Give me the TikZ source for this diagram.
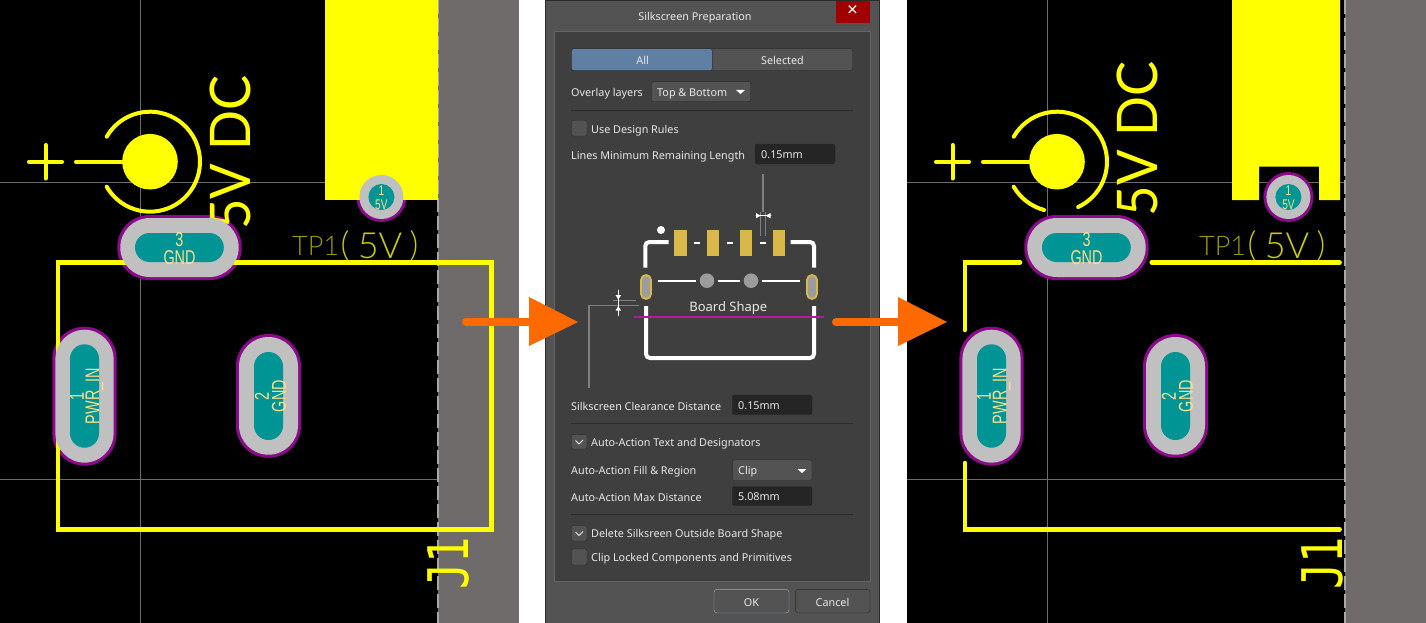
\documentclass[tikz,border=0pt]{standalone}
\usepackage{fontspec}
\setmainfont{Noto Sans}
\newfontfamily\silkfamily[FakeStretch=0.94]{Lato}
\newfontfamily\tpfamily{Lato Light}
\newfontfamily\jackfamily[FakeStretch=0.78]{DejaVu Sans Mono}
\newfontfamily\padfamily[FakeStretch=0.72]{Liberation Sans}
\newcommand{\dlgsize}{\fontsize{10.8}{13}\selectfont}
\definecolor{silkyellow}{RGB}{255,255,0}
\definecolor{boardgray}{HTML}{6F6B6B}
\definecolor{gridgray}{HTML}{6F6B6B}
\definecolor{edgegray}{HTML}{A8A8A8}
\definecolor{padpurple}{HTML}{8B0A8B}
\definecolor{padgray}{HTML}{C0C0C0}
\definecolor{padteal}{HTML}{009494}
\definecolor{padtext}{HTML}{FFE08C}
\definecolor{arroworange}{HTML}{FF6A00}
\definecolor{dlgbody}{HTML}{535353}
\definecolor{dlgpanel}{HTML}{3F3F3F}
\definecolor{dlgedge}{HTML}{2B2B2B}
\definecolor{dlgtxt}{HTML}{E8E8E8}
\definecolor{dlgblue}{HTML}{5F80A3}
\definecolor{dlgfocus}{HTML}{8AB0D0}
\definecolor{dlgclose}{HTML}{A00000}
\definecolor{partgold}{HTML}{D9B84A}
\definecolor{partgray}{HTML}{9C9C9C}
\definecolor{hintgray}{HTML}{808080}
\definecolor{edgepurple}{HTML}{B01AA8}
\tikzset{
  silkline/.style={draw=silkyellow, line width=4.5pt, line cap=round},
  thinsilk/.style={draw=silkyellow, line width=4pt, line cap=round},
  gridline/.style={draw=gridgray, line width=1pt},
  edgeline/.style={draw=edgegray, line width=1.2pt, dash pattern=on 14pt off 4pt},
  padtxt/.style={inner sep=0pt, text=padtext, font=\padfamily\fontsize{#1}{#1}\selectfont},
  silktxt/.style={inner sep=0pt, text=silkyellow, font=\silkfamily\fontsize{#1}{#1}\selectfont},
  jacktxt/.style={inner sep=0pt, text=silkyellow, font=\jackfamily\fontsize{56}{56}\selectfont},
  tptxt/.style={inner sep=0pt, anchor=west, text=silkyellow!#1!black, font=\tpfamily\fontsize{27}{27}\selectfont},
  valtxt/.style={inner sep=0pt, anchor=center, text=silkyellow!80!black, font=\tpfamily\fontsize{#1}{#1}\selectfont},
  dlgtext/.style={anchor=base west, inner sep=0pt, text=dlgtxt, font=\dlgsize},
  dlgmid/.style={anchor=base, inner sep=0pt, text=dlgtxt, font=\dlgsize},
  dlgfield/.style={fill=dlgedge!85!black, draw=dlgedge, rounded corners=2pt},
  dlgcombo/.style={fill=dlgbody, draw=dlgedge, rounded corners=2pt},
  dlgcheck/.style={fill=dlgbody, draw=dlgedge, rounded corners=2pt},
  dlgsep/.style={draw=dlgedge, line width=1pt},
  tickmark/.style={draw=white, line width=0.6pt, line cap=round},
  whiteline/.style={draw=white, line width=2pt},
  whitewall/.style={draw=white, line width=4pt, rounded corners=4pt},
  hintline/.style={draw=hintgray, line width=1.2pt},
  sidepad/.style={fill=partgray, draw=partgold, line width=1.8pt, rounded corners=5pt},
  bigarrow/.style={draw=arroworange, line width=8pt, line cap=round},
  bighead/.style={fill=arroworange}
}
\begin{document}
\begin{tikzpicture}[x=1pt,y=-1pt]
    \useasboundingbox[fill=white] (0,0) rectangle (1426,623);

    % left board
    \fill [black] (0,0) rectangle (438,623);
    \fill [boardgray] (438,0) rectangle (519,623);
    \draw [gridline] (140.5,0) -- (140.5,623);
    \draw [gridline] (0,182.5) -- (441,182.5);
    \draw [gridline] (0,479.5) -- (441,479.5);
    \draw [edgeline] (438,0) -- (438,623);

    \fill [padpurple, rounded corners=32pt] (117.3,215) rectangle (241.7,280);
    \fill [padpurple, rounded corners=32pt] (52.4,326.7) rectangle (116.6,465.7);
    \fill [padpurple, rounded corners=32pt] (236,334) rectangle (301,457.7);
    \fill [padpurple] (381.4,197) circle (25);

    \draw [silkline] (57.8,262.3) -- (491.5,262.3) -- (491.5,529.3) -- (57.8,529.3) -- cycle;
    \fill [silkyellow] (325,0) rectangle (438,200);
    \node [silktxt=56, rotate=90] (leftvolt) at (230.5,152.5) {5V DC};
    \node [jacktxt, rotate=90] (leftjack) at (448.5,563) {J1};
    \node [tptxt=60] (lefttp) at (292,245.5) {TP1};
    \node [valtxt=34] (leftvala) at (345,245.5) {(};
    \node [valtxt=36] (leftvalb) at (380,245.5) {5V};
    \node [valtxt=34] (leftvalc) at (414,245.5) {)};
    \fill [silkyellow] (150,161.7) circle (27.8);
    \draw [thinsilk] (76,161.7) -- (150,161.7);
    \draw [thinsilk] (29,161.7) -- (62,161.7);
    \draw [thinsilk] (45.5,145) -- (45.5,178.5);
    \draw [thinsilk] (150,161.7) ++(-150:50) arc [start angle=-150, end angle=150, radius=50];

    \fill [padgray, rounded corners=29.5pt] (120.3,218) rectangle (238.7,277);
    \fill [padgray, rounded corners=29.5pt] (55.4,329.7) rectangle (113.6,462.7);
    \fill [padgray, rounded corners=29.5pt] (239,337) rectangle (298,454.7);
    \fill [padgray] (381.4,197) circle (22);
    \fill [padteal, rounded corners=14.5pt] (135,233) rectangle (223.8,262);
    \fill [padteal, rounded corners=14.5pt] (70,344.3) rectangle (99,447.7);
    \fill [padteal, rounded corners=14.5pt] (254,352) rectangle (283,440);
    \fill [padteal] (381.4,197) circle (13);
    \node [padtxt=20] (leftnumc) at (179.5,240) {3};
    \node [padtxt=20] (leftgndc) at (179.5,258) {GND};
    \node [padtxt=20, rotate=90] (leftnuma) at (77,396) {1};
    \node [padtxt=20, rotate=90] (leftpwr) at (94.6,396) {PWR\_IN};
    \node [padtxt=20, rotate=90] (leftnumb) at (262,396) {2};
    \node [padtxt=20, rotate=90] (leftgndb) at (279,396) {GND};
    \node [padtxt=14] (leftnumd) at (381.4,191) {1};
    \node [padtxt=14] (leftfive) at (381.4,205) {5V};

    % dialog
    \filldraw [fill=dlgbody, draw=dlgedge] (545.5,0) rectangle (879,623);
    \node [dlgmid] (title) at (695,21) {Silkscreen Preparation};
    \fill [dlgclose] (836,1) rectangle (870,23);
    \node [inner sep=0pt, text=white, font=\fontsize{19}{19}\selectfont] (closex) at (852.5,11.5) {×};
    \filldraw [fill=dlgpanel, draw=dlgbody!90!white] (554,31) rectangle (870,580.7);

    \filldraw [fill=dlgbody, draw=dlgedge, rounded corners=2pt] (571.7,48.7) rectangle (852.7,70.5);
    \filldraw [fill=dlgblue, draw=dlgedge, rounded corners=2pt] (571.7,48.7) rectangle (712.3,70.5);
    \node [dlgmid] (tabone) at (642.7,65) {All};
    \node [dlgmid] (tabtwo) at (782.5,65) {Selected};

    \node [dlgtext] (overlay) at (571,97) {Overlay layers};
    \draw [dlgcombo] (651.7,81.7) rectangle (750.7,101.5);
    \node [dlgtext] (overlayval) at (657,97) {Top \& Bottom};
    \fill [white] (736,90) -- (745,90) -- (740.5,94) -- cycle;
    \draw [dlgsep] (571,110.5) -- (853,110.5);

    \draw [dlgcheck] (571.5,120.5) rectangle (587,136);
    \node [dlgtext] (rules) at (591,133) {Use Design Rules};
    \node [dlgtext] (minlen) at (571,159) {Lines Minimum Remaining Length};
    \draw [dlgfield] (755,144) rectangle (835,164);
    \node [dlgtext] (minlenval) at (761,158.5) {0.15mm};

    % preview
    \draw [hintline, line width=1.6pt] (762.7,174) -- (762.7,212);
    \draw [hintline] (760.7,212) -- (760.7,236);
    \draw [hintline] (765.3,212) -- (765.3,236);
    \draw [tickmark] (756,215.7) -- (771,215.7);
    \fill [white] (756,213) -- (760.4,215.7) -- (756,218.4) -- cycle;
    \fill [white] (770.5,213) -- (765.8,215.7) -- (770.5,218.4) -- cycle;

    \fill [white] (661,230) circle (4);
    \fill [partgold] (674.3,230) rectangle (686.7,256);
    \fill [partgold] (707,230) rectangle (719,256);
    \fill [partgold] (740,230) rectangle (752.3,256);
    \fill [partgold] (773,230) rectangle (785,256);
    \draw [whiteline] (694,242.7) -- (700,242.7);
    \draw [whiteline] (727,242.7) -- (733,242.7);
    \draw [whiteline] (760,242.7) -- (766,242.7);
    \draw [whitewall] (668.7,242) -- (645.3,242) -- (645.3,267.7);
    \draw [whitewall] (790.7,242) -- (814,242) -- (814,267.7);
    \draw [sidepad] (641,275) rectangle (651,299);
    \draw [sidepad] (807,275) rectangle (817,299);
    \draw [whiteline] (657.7,280.7) -- (696,280.7);
    \draw [whiteline] (717.7,280.7) -- (740,280.7);
    \draw [whiteline] (762,280.7) -- (800,280.7);
    \fill [partgray] (707,280.7) circle (7.3);
    \fill [partgray] (751,280.7) circle (7.3);
    \draw [whitewall] (646,306) -- (646,358) -- (814,358) -- (814,306);
    \draw [draw=edgepurple, line width=2pt] (634,316.7) -- (824.3,316.7);
    \node [inner sep=0pt, text=dlgtxt, font=\fontsize{13}{15}\selectfont] (boardshape) at (728.3,308.5) {Board Shape};
    \draw [hintline] (639,305.3) -- (589,305.3) -- (589,387.7);
    \draw [hintline] (613.3,300.3) -- (636,300.3);
    \draw [tickmark] (618.3,290) -- (618.3,315.7);
    \fill [white] (615.5,295) -- (621.1,295) -- (618.3,299.6) -- cycle;
    \fill [white] (615.5,310.7) -- (621.1,310.7) -- (618.3,306) -- cycle;

    \node [dlgtext] (clearance) at (571,410) {Silkscreen Clearance Distance};
    \draw [dlgfield] (732.3,395) rectangle (812,414.7);
    \node [dlgtext] (clearanceval) at (738,409.5) {0.15mm};
    \draw [dlgsep] (571,423.5) -- (853,423.5);

    \draw [dlgcheck] (571.5,434.3) rectangle (587,449);
    \draw [draw=dlgtxt, line width=1pt] (575.5,440.5) -- (579,444) -- (583,440);
    \node [dlgtext] (autotext) at (591,446) {Auto-Action Text and Designators};
    \node [dlgtext] (autofill) at (571,474) {Auto-Action Fill \& Region};
    \draw [dlgcombo] (732.3,460) rectangle (812,480.5);
    \node [dlgtext] (autofillval) at (738,474.5) {Clip};
    \fill [white] (797.5,469) -- (806.5,469) -- (802,473) -- cycle;
    \node [dlgtext] (autodist) at (571,501) {Auto-Action Max Distance};
    \draw [dlgfield] (732.3,486.5) rectangle (812,505.7);
    \node [dlgtext] (autodistval) at (738,500.5) {5.08mm};
    \draw [dlgsep] (571,514.5) -- (853,514.5);

    \draw [dlgcheck] (571.5,525.5) rectangle (587,541);
    \draw [draw=dlgtxt, line width=1pt] (575.5,532) -- (579,535.5) -- (583,531.5);
    \node [dlgtext] (deleteout) at (591,537) {Delete Silksreen Outside Board Shape};
    \draw [dlgcheck] (571.5,549) rectangle (587,565);
    \node [dlgtext] (cliplocked) at (591,561) {Clip Locked Components and Primitives};

    \filldraw [fill=dlgbody, draw=dlgfocus, rounded corners=3pt] (714,589.3) rectangle (789,613);
    \node [dlgmid] (okbtn) at (751.5,606) {OK};
    \filldraw [fill=dlgbody, draw=dlgedge, rounded corners=3pt] (795.3,589.3) rectangle (870,613);
    \node [dlgmid] (cancelbtn) at (832.5,606) {Cancel};

    % right board
    \begin{scope}[xshift=907pt]
    \fill [black] (0,0) rectangle (438,623);
    \fill [boardgray] (438,0) rectangle (519,623);
    \draw [gridline] (140.5,0) -- (140.5,623);
    \draw [gridline] (0,182.5) -- (441,182.5);
    \draw [gridline] (0,479.5) -- (441,479.5);
    \draw [edgeline] (438,0) -- (438,623);

    \fill [padpurple, rounded corners=32pt] (117.3,215) rectangle (241.7,280);
    \fill [padpurple, rounded corners=32pt] (52.4,326.7) rectangle (116.6,465.7);
    \fill [padpurple, rounded corners=32pt] (236,334) rectangle (301,457.7);

    \draw [silkline] (113,262.3) -- (57.8,262.3) -- (57.8,330);
    \draw [silkline] (244.7,262.3) -- (432.6,262.3);
    \draw [silkline] (57.8,463) -- (57.8,529.3) -- (432.6,529.3);
    \fill [silkyellow] (325,0) -- (433,0) -- (433,200) -- (412,200) -- (412,166.7) -- (352,166.7) -- (352,200) -- (325,200) -- cycle;
    \fill [padpurple] (381.4,197) circle (25);
    \node [silktxt=56, rotate=90] (rightvolt) at (230.5,139) {5V DC};
    \node [jacktxt, rotate=90] (rightjack) at (415,563) {J1};
    \node [tptxt=60] (righttp) at (292,245.5) {TP1};
    \node [valtxt=34] (rightvala) at (345,245.5) {(};
    \node [valtxt=36] (rightvalb) at (380,245.5) {5V};
    \node [valtxt=34] (rightvalc) at (414,245.5) {)};
    \fill [silkyellow] (150,161.7) circle (27.8);
    \draw [thinsilk] (76,161.7) -- (150,161.7);
    \draw [thinsilk] (29,161.7) -- (62,161.7);
    \draw [thinsilk] (45.5,145) -- (45.5,178.5);
    \draw [thinsilk] (150,161.7) ++(-150:50) arc [start angle=-150, end angle=65, radius=50];
    \draw [thinsilk] (150,161.7) ++(150:50) arc [start angle=150, end angle=105, radius=50];

    \fill [padgray, rounded corners=29.5pt] (120.3,218) rectangle (238.7,277);
    \fill [padgray, rounded corners=29.5pt] (55.4,329.7) rectangle (113.6,462.7);
    \fill [padgray, rounded corners=29.5pt] (239,337) rectangle (298,454.7);
    \fill [padgray] (381.4,197) circle (22);
    \fill [padteal, rounded corners=14.5pt] (135,233) rectangle (223.8,262);
    \fill [padteal, rounded corners=14.5pt] (70,344.3) rectangle (99,447.7);
    \fill [padteal, rounded corners=14.5pt] (254,352) rectangle (283,440);
    \fill [padteal] (381.4,197) circle (13);
    \node [padtxt=20] (rightnumc) at (179.5,240) {3};
    \node [padtxt=20] (rightgndc) at (179.5,258) {GND};
    \node [padtxt=20, rotate=90] (rightnuma) at (77,396) {1};
    \node [padtxt=20, rotate=90] (rightpwr) at (94.6,396) {PWR\_IN};
    \node [padtxt=20, rotate=90] (rightnumb) at (262,396) {2};
    \node [padtxt=20, rotate=90] (rightgndb) at (279,396) {GND};
    \node [padtxt=14] (rightnumd) at (381.4,191) {1};
    \node [padtxt=14] (rightfive) at (381.4,205) {5V};
    \end{scope}

    % arrows
    \coordinate (arrowastart) at (466,322);
    \coordinate (arrowaend) at (530,322);
    \coordinate (arrowbstart) at (836,322);
    \coordinate (arrowbend) at (899,322);
    \draw [bigarrow] (arrowastart) -- (arrowaend);
    \fill [bighead] (529,297) -- (578,322) -- (529,346) -- cycle;
    \draw [bigarrow] (arrowbstart) -- (arrowbend);
    \fill [bighead] (898,297) -- (947,322) -- (898,346) -- cycle;
\end{tikzpicture}
\end{document}
